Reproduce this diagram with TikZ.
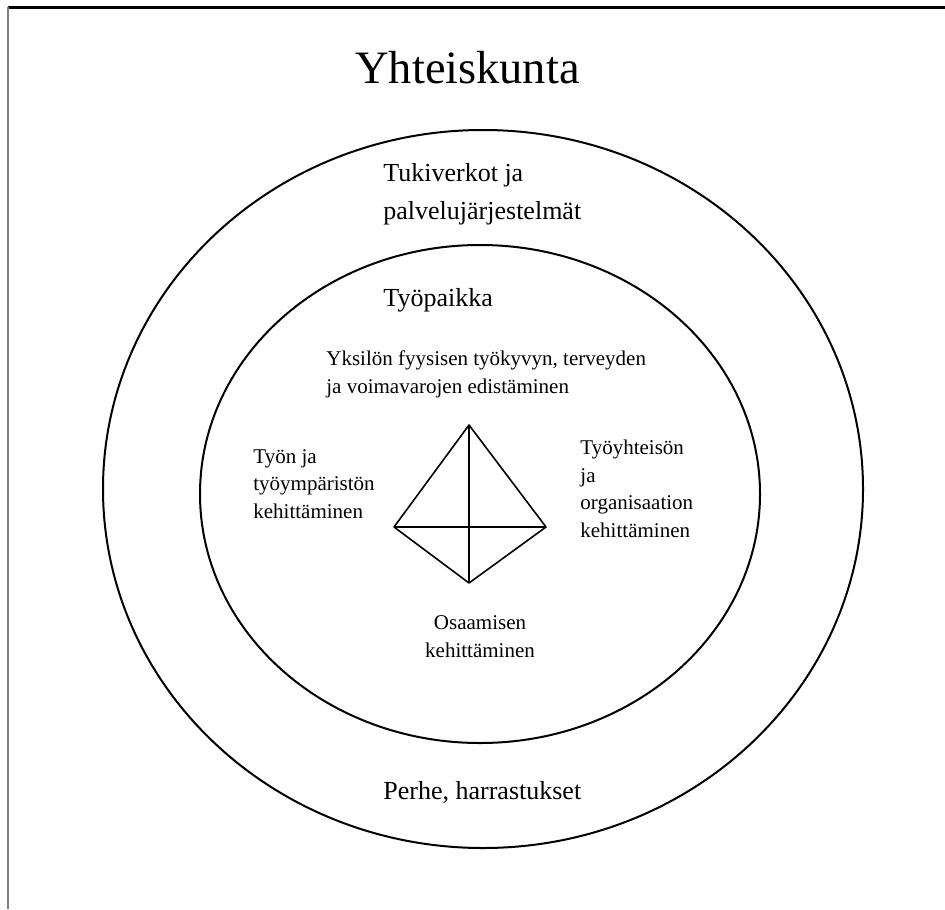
\documentclass[tikz,border=0pt]{standalone}
\usepackage{fontspec}
\setmainfont{Liberation Serif}
\usepackage{tikz}

\begin{document}
\begin{tikzpicture}[x=0.5pt, y=-0.5pt,
        txt/.style={inner sep=0pt, anchor=base west, align=left},
        small/.style={txt, font=\fontsize{10.5}{13.7}\selectfont},
        mid/.style={txt, font=\fontsize{13}{19}\selectfont}]
        \useasboundingbox (0,0) rectangle (945,909);

        % Kehys
        \draw[line width=1.1pt] (8,7.5) -- (945,7.5);
        \draw[gray, line width=0.8pt] (8,7.5) -- (8,909);

        % Ympyrät
        \draw[line width=1pt] (483,489) ellipse [x radius=380, y radius=359];
        \draw[line width=1pt] (480,494) ellipse [x radius=280, y radius=249];

        % Otsikot (base = viimeisen rivin perusviiva)
        \node[txt, font=\fontsize{23.2}{28}\selectfont] (yhteiskunta) at (355,84) {Yhteiskunta};
        \node[mid] (tukiverkot) at (383,219) {Tukiverkot ja\\palvelujärjestelmät};
        \node[mid] (tyopaikka) at (383,306) {Työpaikka};
        \node[mid] (perhe) at (383,799) {Perhe, harrastukset};

        % Osa-alueet
        \node[small] (yksilo) at (326,393) {Yksilön fyysisen työkyvyn, terveyden\\ja voimavarojen edistäminen};
        \node[small] (tyo) at (253,518) {Työn ja\\työympäristön\\kehittäminen};
        \node[small] (yhteiso) at (580,537) {Työyhteisön\\ja\\organisaation\\kehittäminen};
        \node[small, anchor=base, align=center] (osaaminen) at (480,657) {Osaamisen\\kehittäminen};

        % Tetraedri
        \coordinate (ylä) at (469,425);
        \coordinate (vasen) at (394,527);
        \coordinate (oikea) at (546,527);
        \coordinate (ala) at (469,583);
        \draw[line width=0.8pt, line join=round] (ylä) -- (vasen) -- (ala) -- (oikea) -- cycle;
        \draw[line width=0.8pt] (ylä) -- (ala);
        \draw[line width=0.8pt] (vasen) -- (oikea);
    \end{tikzpicture}
\end{document}
